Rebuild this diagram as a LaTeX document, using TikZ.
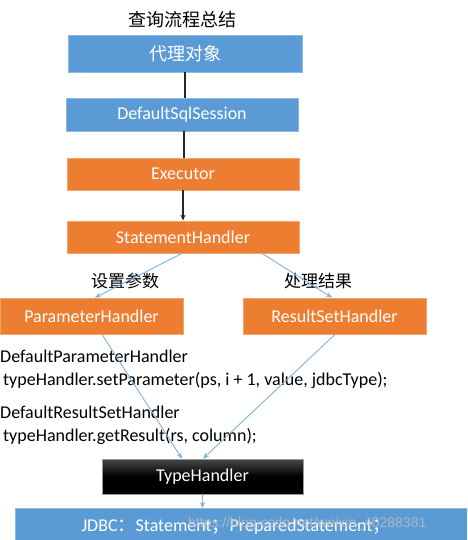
\documentclass[tikz,border=0pt]{standalone}
\usepackage{fontspec}
\setmainfont{Carlito}
\newfontfamily\cjk{Noto Sans CJK SC}
\newfontfamily\wmfont{Liberation Sans}
\usetikzlibrary{arrows.meta}
\definecolor{boxblue}{HTML}{5B9BD5}
\definecolor{boxorange}{HTML}{ED7D31}
\definecolor{lineblue}{HTML}{7FB2E0}
\tikzset{
  bluebox/.style={draw=boxblue!70!white, line width=0.8pt, fill=boxblue, text=white, inner sep=0pt, font=\fontsize{18}{22}\selectfont},
  orangebox/.style={draw=boxorange!70!white, line width=0.8pt, fill=boxorange, text=white, inner sep=0pt, font=\fontsize{18}{22}\selectfont},
  blackbox/.style={draw=black!40, line width=0.8pt, top color=black!72, bottom color=black, middle color=black, text=white, inner sep=0pt, font=\fontsize{18}{22}\selectfont},
  blackline/.style={draw=black!85, line width=1.5pt},
  blueline/.style={draw=lineblue, line width=0.9pt},
  tip/.style={-{Stealth[length=6pt,width=5pt]}},
  plain/.style={font=\fontsize{18}{23}\selectfont, inner sep=0pt, align=left},
  cjklabel/.style={font=\cjk\fontsize{17}{20}\selectfont, inner sep=0pt}
}
\begin{document}
\begin{tikzpicture}[x=1pt,y=-1pt]
\useasboundingbox (0,0) rectangle (467,540);
\begin{scope}
\clip (0,0) rectangle (467,540);
\node[cjklabel, font=\cjk\fontsize{18}{20}\selectfont] (title) at (182,20) {查询流程总结};
\node[bluebox, minimum width=234pt, minimum height=37pt] (proxy) at (185,53.5) {\cjk 代理对象};
\node[bluebox, minimum width=232pt, minimum height=33pt] (session) at (182,114.5) {DefaultSqlSession};
\node[orangebox, minimum width=232pt, minimum height=32pt] (exec) at (183,174) {Executor};
\node[orangebox, minimum width=232pt, minimum height=32pt] (sh) at (183,237) {StatementHandler};
\node[orangebox, minimum width=183pt, minimum height=36pt] (ph) at (91.5,316) {ParameterHandler};
\node[orangebox, minimum width=183pt, minimum height=36pt] (rh) at (334.5,316) {ResultSetHandler};
\node[blackbox, minimum width=201pt, minimum height=35pt] (th) at (202.5,476.5) {TypeHandler};
\node[bluebox, minimum width=470pt, minimum height=40pt, anchor=north west] (jdbc) at (15,508) {};
\node[font=\fontsize{18}{22}\selectfont, text=white, inner sep=0pt] (jdbctext) at (236,527) {JDBC{\cjk ：}Statement{\cjk ；}PreparedStatement{\cjk ；}};
\node[font=\wmfont\fontsize{14}{16}\selectfont, text=black!25, opacity=0.8, inner sep=0pt, anchor=west] (wm) at (188,524) {https://blog.csdn.net/weixin\_40288381};

\node[plain, anchor=north west] (dph) at (0,350) {DefaultParameterHandler\\\,typeHandler.setParameter(ps, i + 1, value, jdbcType);};
\node[plain, anchor=north west] (drh) at (0,406) {DefaultResultSetHandler\\\,typeHandler.getResult(rs, column);};

\node[cjklabel] (setp) at (125,281) {设置参数};
\node[cjklabel] (proc) at (318,281) {处理结果};

\draw[blackline] (proxy.south) -- (proxy.south |- session.north);
\draw[blackline] ([xshift=2pt]session.south) -- ([xshift=1pt]exec.north);
\draw[blackline, tip] (exec.south) -- (sh.north);
\draw[blueline, tip] ([xshift=-1pt]sh.south) -- ([xshift=3.5pt]ph.north);
\draw[blueline, tip] ([xshift=79pt]sh.south) -- ([xshift=-2.5pt]rh.north);
\draw[blueline, tip] ([xshift=10.5pt]ph.south) -- ([xshift=-20.5pt]th.north);
\draw[blueline, tip] ([xshift=0.5pt]rh.south) -- ([xshift=0.5pt]th.north);
\draw[blueline, tip] (th.south) -- (th.south |- jdbc.north);
\end{scope}
\end{tikzpicture}
\end{document}
